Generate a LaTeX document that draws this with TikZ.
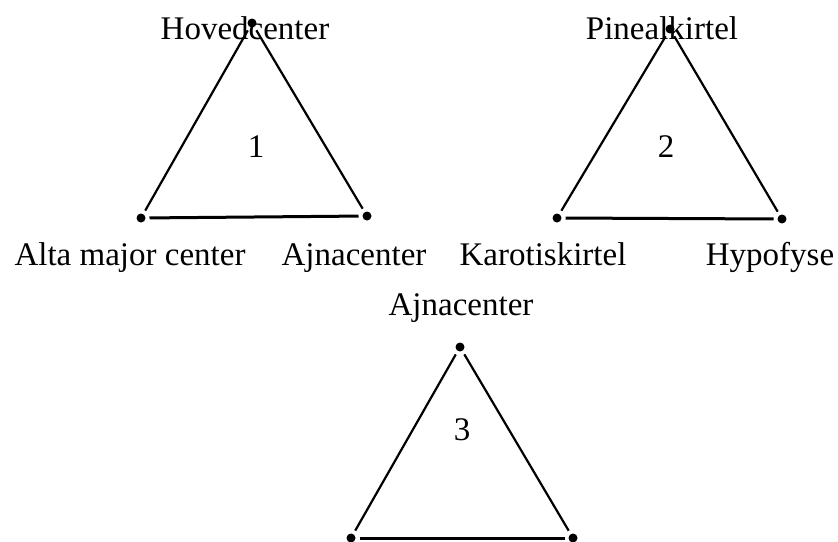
\documentclass[tikz,border=0pt]{standalone}
\usepackage{fontspec}
\setmainfont{Liberation Serif}

\begin{document}
\begin{tikzpicture}[x=1pt,y=-1pt,
  dot/.style={circle, fill=black, inner sep=0pt, minimum size=9pt, outer sep=4pt},
  side/.style={line width=2.2pt},
  base/.style={line width=3pt},
  lbl/.style={anchor=base, inner sep=0pt, font=\fontsize{33}{38}\selectfont},
  num/.style={inner sep=0pt, font=\fontsize{33}{38}\selectfont}]
\useasboundingbox (0,0) rectangle (838,541);
% triangle 1
\node[dot] (top1) at (252,23) {};
\node[dot] (left1) at (141,218) {};
\node[dot] (right1) at (367,216) {};
\draw[side] (top1) -- (left1);
\draw[side] (top1) -- (right1);
\draw[base] (left1) -- (right1);
\node[num] (n1) at (256,147) {1};
\node[lbl] (hoved) at (245,39) {Hovedcenter};
\node[lbl] (alta) at (130,265) {Alta major center};
\node[lbl] (ajna1) at (354,265) {Ajnacenter};
% triangle 2
\node[dot] (top2) at (670,29) {};
\node[dot] (left2) at (557,218) {};
\node[dot] (right2) at (782,219) {};
\draw[side] (top2) -- (left2);
\draw[side] (top2) -- (right2);
\draw[base] (left2) -- (right2);
\node[num] (n2) at (666,147) {2};
\node[lbl] (pineal) at (662,39) {Pinealkirtel};
\node[lbl] (karotis) at (543,265) {Karotiskirtel};
\node[lbl] (hypo) at (770,265) {Hypofyse};
% triangle 3
\node[dot] (top3) at (460,347) {};
\node[dot] (left3) at (351,538) {};
\node[dot] (right3) at (573,538) {};
\draw[side] (top3) -- (left3);
\draw[side] (top3) -- (right3);
\draw[base] (left3) -- (right3);
\node[num] (n3) at (462,430) {3};
\node[lbl] (ajna3) at (461,315) {Ajnacenter};
\end{tikzpicture}
\end{document}
